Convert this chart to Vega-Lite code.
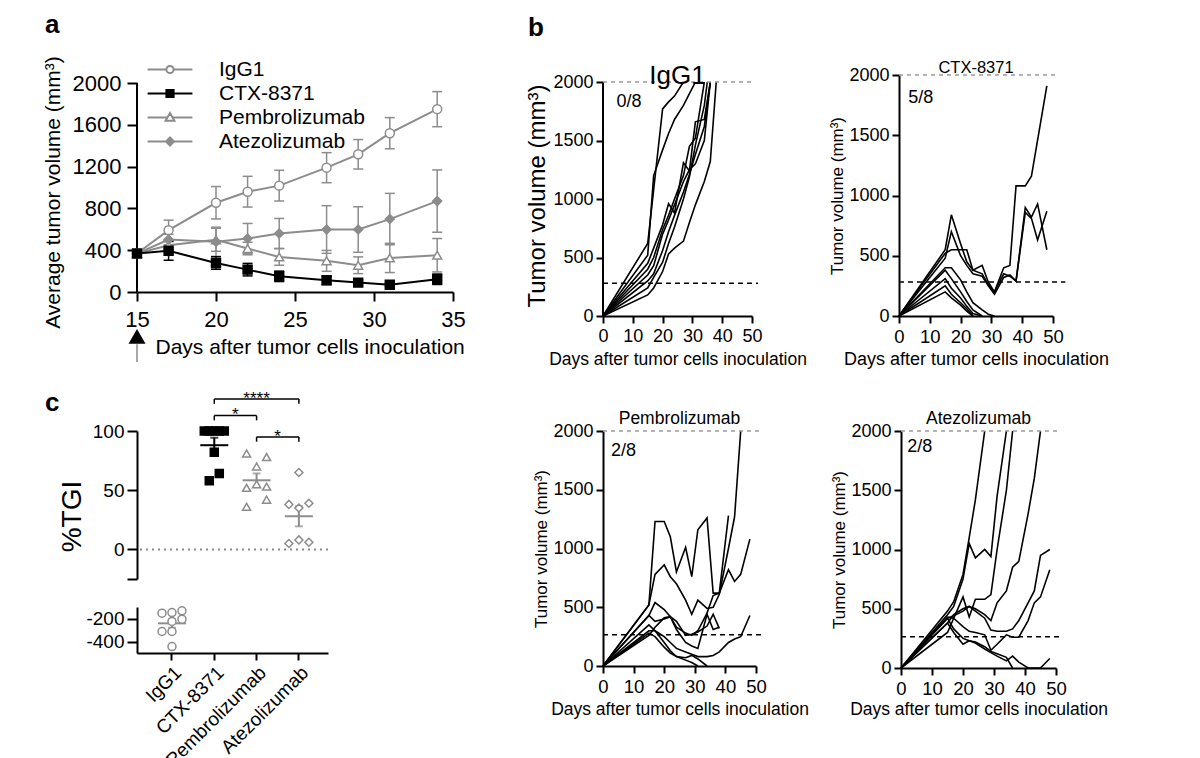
{
"$schema": "https://vega.github.io/schema/vega-lite/v6.json",
"padding": {"left": 42, "top": 11, "right": 10, "bottom": 5},
"config": {
  "font": "Liberation Sans",
  "view": {"stroke": null},
  "axis": {"grid": false, "domainColor": "#000000", "domainWidth": 2, "tickColor": "#000000", "tickWidth": 2, "labelColor": "#000000", "titleColor": "#000000", "titleFontWeight": "normal", "labelFont": "Liberation Sans", "titleFont": "Liberation Sans", "labelFlush": false, "labelOverlap": false},
  "title": {"font": "Liberation Sans", "color": "#000000", "fontWeight": "normal"},
  "legend": {"labelFont": "Liberation Sans"},
  "text": {"font": "Liberation Sans"}
},
"datasets": {
  "avg": [
    {"grp":"IgG1","day":15,"mean":368,"lo":353,"hi":383},{"grp":"IgG1","day":17,"mean":592,"lo":496,"hi":688},{"grp":"IgG1","day":20,"mean":854,"lo":699,"hi":1009},{"grp":"IgG1","day":22,"mean":960,"lo":813,"hi":1107},{"grp":"IgG1","day":24,"mean":1018,"lo":871,"hi":1165},{"grp":"IgG1","day":27,"mean":1190,"lo":1046,"hi":1334},{"grp":"IgG1","day":29,"mean":1318,"lo":1177,"hi":1459},{"grp":"IgG1","day":31,"mean":1520,"lo":1371,"hi":1669},{"grp":"IgG1","day":34,"mean":1750,"lo":1582,"hi":1918},
    {"grp":"Pembrolizumab","day":15,"mean":368,"lo":353,"hi":383},{"grp":"Pembrolizumab","day":17,"mean":448,"lo":398,"hi":498},{"grp":"Pembrolizumab","day":20,"mean":500,"lo":390,"hi":610},{"grp":"Pembrolizumab","day":22,"mean":416,"lo":356,"hi":476},{"grp":"Pembrolizumab","day":24,"mean":336,"lo":256,"hi":416},{"grp":"Pembrolizumab","day":27,"mean":298,"lo":198,"hi":398},{"grp":"Pembrolizumab","day":29,"mean":256,"lo":176,"hi":336},{"grp":"Pembrolizumab","day":31,"mean":326,"lo":186,"hi":466},{"grp":"Pembrolizumab","day":34,"mean":352,"lo":192,"hi":512},
    {"grp":"Atezolizumab","day":15,"mean":368,"lo":353,"hi":383},{"grp":"Atezolizumab","day":17,"mean":502,"lo":452,"hi":552},{"grp":"Atezolizumab","day":20,"mean":480,"lo":340,"hi":620},{"grp":"Atezolizumab","day":22,"mean":512,"lo":368,"hi":656},{"grp":"Atezolizumab","day":24,"mean":560,"lo":416,"hi":704},{"grp":"Atezolizumab","day":27,"mean":598,"lo":370,"hi":826},{"grp":"Atezolizumab","day":29,"mean":598,"lo":380,"hi":816},{"grp":"Atezolizumab","day":31,"mean":698,"lo":452,"hi":944},{"grp":"Atezolizumab","day":34,"mean":870,"lo":572,"hi":1168},
    {"grp":"CTX-8371","day":15,"mean":368,"lo":353,"hi":383},{"grp":"CTX-8371","day":17,"mean":394,"lo":304,"hi":484},{"grp":"CTX-8371","day":20,"mean":278,"lo":218,"hi":338},{"grp":"CTX-8371","day":22,"mean":214,"lo":154,"hi":274},{"grp":"CTX-8371","day":24,"mean":150,"lo":100,"hi":200},{"grp":"CTX-8371","day":27,"mean":112,"lo":72,"hi":152},{"grp":"CTX-8371","day":29,"mean":90,"lo":65,"hi":115},{"grp":"CTX-8371","day":31,"mean":70,"lo":55,"hi":85},{"grp":"CTX-8371","day":34,"mean":122,"lo":72,"hi":172}
  ],
  "mice": [
    {"grp":"IgG1","id":"i1","day":0,"vol":0},{"grp":"IgG1","id":"i1","day":15,"vol":620},{"grp":"IgG1","id":"i1","day":17,"vol":1080},{"grp":"IgG1","id":"i1","day":20,"vol":1770},{"grp":"IgG1","id":"i1","day":22,"vol":1830},{"grp":"IgG1","id":"i1","day":24,"vol":1880},{"grp":"IgG1","id":"i1","day":27,"vol":2000},
    {"grp":"IgG1","id":"i2","day":0,"vol":0},{"grp":"IgG1","id":"i2","day":15,"vol":520},{"grp":"IgG1","id":"i2","day":17,"vol":1200},{"grp":"IgG1","id":"i2","day":20,"vol":1420},{"grp":"IgG1","id":"i2","day":22,"vol":1560},{"grp":"IgG1","id":"i2","day":24,"vol":1680},{"grp":"IgG1","id":"i2","day":27,"vol":1800},{"grp":"IgG1","id":"i2","day":29,"vol":1900},{"grp":"IgG1","id":"i2","day":31,"vol":2000},
    {"grp":"IgG1","id":"i3","day":0,"vol":0},{"grp":"IgG1","id":"i3","day":15,"vol":450},{"grp":"IgG1","id":"i3","day":17,"vol":580},{"grp":"IgG1","id":"i3","day":20,"vol":780},{"grp":"IgG1","id":"i3","day":22,"vol":960},{"grp":"IgG1","id":"i3","day":24,"vol":880},{"grp":"IgG1","id":"i3","day":27,"vol":1310},{"grp":"IgG1","id":"i3","day":29,"vol":1240},{"grp":"IgG1","id":"i3","day":31,"vol":1660},{"grp":"IgG1","id":"i3","day":34,"vol":1680},{"grp":"IgG1","id":"i3","day":36,"vol":2000},
    {"grp":"IgG1","id":"i4","day":0,"vol":0},{"grp":"IgG1","id":"i4","day":15,"vol":400},{"grp":"IgG1","id":"i4","day":17,"vol":500},{"grp":"IgG1","id":"i4","day":20,"vol":740},{"grp":"IgG1","id":"i4","day":22,"vol":860},{"grp":"IgG1","id":"i4","day":24,"vol":1000},{"grp":"IgG1","id":"i4","day":27,"vol":1200},{"grp":"IgG1","id":"i4","day":29,"vol":1450},{"grp":"IgG1","id":"i4","day":31,"vol":1520},{"grp":"IgG1","id":"i4","day":34,"vol":2000},
    {"grp":"IgG1","id":"i5","day":0,"vol":0},{"grp":"IgG1","id":"i5","day":15,"vol":350},{"grp":"IgG1","id":"i5","day":17,"vol":430},{"grp":"IgG1","id":"i5","day":20,"vol":700},{"grp":"IgG1","id":"i5","day":22,"vol":820},{"grp":"IgG1","id":"i5","day":24,"vol":950},{"grp":"IgG1","id":"i5","day":27,"vol":1150},{"grp":"IgG1","id":"i5","day":29,"vol":1250},{"grp":"IgG1","id":"i5","day":31,"vol":1300},{"grp":"IgG1","id":"i5","day":34,"vol":1500},{"grp":"IgG1","id":"i5","day":36,"vol":2000},
    {"grp":"IgG1","id":"i6","day":0,"vol":0},{"grp":"IgG1","id":"i6","day":15,"vol":300},{"grp":"IgG1","id":"i6","day":17,"vol":360},{"grp":"IgG1","id":"i6","day":20,"vol":560},{"grp":"IgG1","id":"i6","day":22,"vol":720},{"grp":"IgG1","id":"i6","day":24,"vol":860},{"grp":"IgG1","id":"i6","day":27,"vol":1060},{"grp":"IgG1","id":"i6","day":29,"vol":1210},{"grp":"IgG1","id":"i6","day":31,"vol":1380},{"grp":"IgG1","id":"i6","day":34,"vol":1620},{"grp":"IgG1","id":"i6","day":36,"vol":2000},
    {"grp":"IgG1","id":"i7","day":0,"vol":0},{"grp":"IgG1","id":"i7","day":15,"vol":240},{"grp":"IgG1","id":"i7","day":17,"vol":330},{"grp":"IgG1","id":"i7","day":20,"vol":460},{"grp":"IgG1","id":"i7","day":22,"vol":620},{"grp":"IgG1","id":"i7","day":24,"vol":760},{"grp":"IgG1","id":"i7","day":27,"vol":1000},{"grp":"IgG1","id":"i7","day":29,"vol":1190},{"grp":"IgG1","id":"i7","day":31,"vol":1460},{"grp":"IgG1","id":"i7","day":34,"vol":1800},{"grp":"IgG1","id":"i7","day":35,"vol":2000},
    {"grp":"IgG1","id":"i8","day":0,"vol":0},{"grp":"IgG1","id":"i8","day":15,"vol":180},{"grp":"IgG1","id":"i8","day":17,"vol":240},{"grp":"IgG1","id":"i8","day":20,"vol":380},{"grp":"IgG1","id":"i8","day":22,"vol":530},{"grp":"IgG1","id":"i8","day":24,"vol":580},{"grp":"IgG1","id":"i8","day":27,"vol":640},{"grp":"IgG1","id":"i8","day":29,"vol":800},{"grp":"IgG1","id":"i8","day":31,"vol":950},{"grp":"IgG1","id":"i8","day":34,"vol":1150},{"grp":"IgG1","id":"i8","day":36,"vol":1320},{"grp":"IgG1","id":"i8","day":38,"vol":2000},
    {"grp":"CTX-8371","id":"c1","day":0,"vol":0},{"grp":"CTX-8371","id":"c1","day":15,"vol":550},{"grp":"CTX-8371","id":"c1","day":17,"vol":840},{"grp":"CTX-8371","id":"c1","day":20,"vol":600},{"grp":"CTX-8371","id":"c1","day":22,"vol":450},{"grp":"CTX-8371","id":"c1","day":24,"vol":380},{"grp":"CTX-8371","id":"c1","day":27,"vol":420},{"grp":"CTX-8371","id":"c1","day":29,"vol":280},{"grp":"CTX-8371","id":"c1","day":31,"vol":200},{"grp":"CTX-8371","id":"c1","day":34,"vol":400},{"grp":"CTX-8371","id":"c1","day":36,"vol":420},{"grp":"CTX-8371","id":"c1","day":38,"vol":1080},{"grp":"CTX-8371","id":"c1","day":41,"vol":1080},{"grp":"CTX-8371","id":"c1","day":43,"vol":1160},{"grp":"CTX-8371","id":"c1","day":48,"vol":1910},
    {"grp":"CTX-8371","id":"c2","day":0,"vol":0},{"grp":"CTX-8371","id":"c2","day":15,"vol":480},{"grp":"CTX-8371","id":"c2","day":17,"vol":700},{"grp":"CTX-8371","id":"c2","day":20,"vol":500},{"grp":"CTX-8371","id":"c2","day":22,"vol":420},{"grp":"CTX-8371","id":"c2","day":24,"vol":350},{"grp":"CTX-8371","id":"c2","day":27,"vol":330},{"grp":"CTX-8371","id":"c2","day":29,"vol":250},{"grp":"CTX-8371","id":"c2","day":31,"vol":180},{"grp":"CTX-8371","id":"c2","day":34,"vol":320},{"grp":"CTX-8371","id":"c2","day":36,"vol":340},{"grp":"CTX-8371","id":"c2","day":38,"vol":290},{"grp":"CTX-8371","id":"c2","day":41,"vol":900},{"grp":"CTX-8371","id":"c2","day":43,"vol":820},{"grp":"CTX-8371","id":"c2","day":45,"vol":930},{"grp":"CTX-8371","id":"c2","day":48,"vol":550},
    {"grp":"CTX-8371","id":"c3","day":0,"vol":0},{"grp":"CTX-8371","id":"c3","day":15,"vol":520},{"grp":"CTX-8371","id":"c3","day":17,"vol":550},{"grp":"CTX-8371","id":"c3","day":20,"vol":550},{"grp":"CTX-8371","id":"c3","day":22,"vol":550},{"grp":"CTX-8371","id":"c3","day":24,"vol":380},{"grp":"CTX-8371","id":"c3","day":27,"vol":350},{"grp":"CTX-8371","id":"c3","day":29,"vol":260},{"grp":"CTX-8371","id":"c3","day":31,"vol":200},{"grp":"CTX-8371","id":"c3","day":34,"vol":350},{"grp":"CTX-8371","id":"c3","day":36,"vol":330},{"grp":"CTX-8371","id":"c3","day":38,"vol":290},{"grp":"CTX-8371","id":"c3","day":41,"vol":860},{"grp":"CTX-8371","id":"c3","day":43,"vol":810},{"grp":"CTX-8371","id":"c3","day":45,"vol":630},{"grp":"CTX-8371","id":"c3","day":48,"vol":870},
    {"grp":"CTX-8371","id":"c4","day":0,"vol":0},{"grp":"CTX-8371","id":"c4","day":15,"vol":400},{"grp":"CTX-8371","id":"c4","day":17,"vol":400},{"grp":"CTX-8371","id":"c4","day":20,"vol":300},{"grp":"CTX-8371","id":"c4","day":22,"vol":200},{"grp":"CTX-8371","id":"c4","day":24,"vol":110},{"grp":"CTX-8371","id":"c4","day":27,"vol":50},{"grp":"CTX-8371","id":"c4","day":29,"vol":15},{"grp":"CTX-8371","id":"c4","day":31,"vol":0},
    {"grp":"CTX-8371","id":"c5","day":0,"vol":0},{"grp":"CTX-8371","id":"c5","day":15,"vol":380},{"grp":"CTX-8371","id":"c5","day":17,"vol":310},{"grp":"CTX-8371","id":"c5","day":20,"vol":200},{"grp":"CTX-8371","id":"c5","day":22,"vol":120},{"grp":"CTX-8371","id":"c5","day":24,"vol":50},{"grp":"CTX-8371","id":"c5","day":27,"vol":0},
    {"grp":"CTX-8371","id":"c6","day":0,"vol":0},{"grp":"CTX-8371","id":"c6","day":15,"vol":310},{"grp":"CTX-8371","id":"c6","day":17,"vol":230},{"grp":"CTX-8371","id":"c6","day":20,"vol":150},{"grp":"CTX-8371","id":"c6","day":22,"vol":80},{"grp":"CTX-8371","id":"c6","day":24,"vol":20},{"grp":"CTX-8371","id":"c6","day":27,"vol":0},
    {"grp":"CTX-8371","id":"c7","day":0,"vol":0},{"grp":"CTX-8371","id":"c7","day":15,"vol":250},{"grp":"CTX-8371","id":"c7","day":17,"vol":180},{"grp":"CTX-8371","id":"c7","day":20,"vol":110},{"grp":"CTX-8371","id":"c7","day":22,"vol":60},{"grp":"CTX-8371","id":"c7","day":24,"vol":0},
    {"grp":"CTX-8371","id":"c8","day":0,"vol":0},{"grp":"CTX-8371","id":"c8","day":15,"vol":200},{"grp":"CTX-8371","id":"c8","day":17,"vol":150},{"grp":"CTX-8371","id":"c8","day":20,"vol":90},{"grp":"CTX-8371","id":"c8","day":22,"vol":40},{"grp":"CTX-8371","id":"c8","day":24,"vol":0},
    {"grp":"Pembrolizumab","id":"p1","day":0,"vol":0},{"grp":"Pembrolizumab","id":"p1","day":15,"vol":520},{"grp":"Pembrolizumab","id":"p1","day":17,"vol":1230},{"grp":"Pembrolizumab","id":"p1","day":20,"vol":1230},{"grp":"Pembrolizumab","id":"p1","day":22,"vol":1100},{"grp":"Pembrolizumab","id":"p1","day":24,"vol":800},{"grp":"Pembrolizumab","id":"p1","day":27,"vol":1010},{"grp":"Pembrolizumab","id":"p1","day":29,"vol":760},{"grp":"Pembrolizumab","id":"p1","day":31,"vol":1160},{"grp":"Pembrolizumab","id":"p1","day":34,"vol":1260},{"grp":"Pembrolizumab","id":"p1","day":36,"vol":620},{"grp":"Pembrolizumab","id":"p1","day":38,"vol":620},{"grp":"Pembrolizumab","id":"p1","day":41,"vol":1280},
    {"grp":"Pembrolizumab","id":"p2","day":0,"vol":0},{"grp":"Pembrolizumab","id":"p2","day":15,"vol":520},{"grp":"Pembrolizumab","id":"p2","day":17,"vol":780},{"grp":"Pembrolizumab","id":"p2","day":20,"vol":860},{"grp":"Pembrolizumab","id":"p2","day":22,"vol":760},{"grp":"Pembrolizumab","id":"p2","day":24,"vol":700},{"grp":"Pembrolizumab","id":"p2","day":27,"vol":560},{"grp":"Pembrolizumab","id":"p2","day":29,"vol":440},{"grp":"Pembrolizumab","id":"p2","day":31,"vol":560},{"grp":"Pembrolizumab","id":"p2","day":34,"vol":490},{"grp":"Pembrolizumab","id":"p2","day":36,"vol":500},{"grp":"Pembrolizumab","id":"p2","day":38,"vol":610},{"grp":"Pembrolizumab","id":"p2","day":41,"vol":1000},{"grp":"Pembrolizumab","id":"p2","day":43,"vol":1270},{"grp":"Pembrolizumab","id":"p2","day":45,"vol":2000},
    {"grp":"Pembrolizumab","id":"p3","day":0,"vol":0},{"grp":"Pembrolizumab","id":"p3","day":15,"vol":430},{"grp":"Pembrolizumab","id":"p3","day":17,"vol":540},{"grp":"Pembrolizumab","id":"p3","day":20,"vol":480},{"grp":"Pembrolizumab","id":"p3","day":22,"vol":420},{"grp":"Pembrolizumab","id":"p3","day":24,"vol":330},{"grp":"Pembrolizumab","id":"p3","day":27,"vol":280},{"grp":"Pembrolizumab","id":"p3","day":29,"vol":260},{"grp":"Pembrolizumab","id":"p3","day":31,"vol":300},{"grp":"Pembrolizumab","id":"p3","day":34,"vol":450},{"grp":"Pembrolizumab","id":"p3","day":36,"vol":600},{"grp":"Pembrolizumab","id":"p3","day":38,"vol":620},{"grp":"Pembrolizumab","id":"p3","day":41,"vol":820},{"grp":"Pembrolizumab","id":"p3","day":43,"vol":720},{"grp":"Pembrolizumab","id":"p3","day":45,"vol":780},{"grp":"Pembrolizumab","id":"p3","day":48,"vol":1080},
    {"grp":"Pembrolizumab","id":"p4","day":0,"vol":0},{"grp":"Pembrolizumab","id":"p4","day":15,"vol":430},{"grp":"Pembrolizumab","id":"p4","day":17,"vol":380},{"grp":"Pembrolizumab","id":"p4","day":20,"vol":400},{"grp":"Pembrolizumab","id":"p4","day":22,"vol":420},{"grp":"Pembrolizumab","id":"p4","day":24,"vol":380},{"grp":"Pembrolizumab","id":"p4","day":27,"vol":260},{"grp":"Pembrolizumab","id":"p4","day":29,"vol":270},{"grp":"Pembrolizumab","id":"p4","day":31,"vol":290},{"grp":"Pembrolizumab","id":"p4","day":34,"vol":340},{"grp":"Pembrolizumab","id":"p4","day":36,"vol":440},{"grp":"Pembrolizumab","id":"p4","day":38,"vol":320},
    {"grp":"Pembrolizumab","id":"p5","day":0,"vol":0},{"grp":"Pembrolizumab","id":"p5","day":15,"vol":350},{"grp":"Pembrolizumab","id":"p5","day":17,"vol":300},{"grp":"Pembrolizumab","id":"p5","day":20,"vol":250},{"grp":"Pembrolizumab","id":"p5","day":22,"vol":200},{"grp":"Pembrolizumab","id":"p5","day":24,"vol":150},{"grp":"Pembrolizumab","id":"p5","day":27,"vol":120},{"grp":"Pembrolizumab","id":"p5","day":29,"vol":100},{"grp":"Pembrolizumab","id":"p5","day":31,"vol":80},{"grp":"Pembrolizumab","id":"p5","day":34,"vol":80},{"grp":"Pembrolizumab","id":"p5","day":36,"vol":90},{"grp":"Pembrolizumab","id":"p5","day":38,"vol":120},{"grp":"Pembrolizumab","id":"p5","day":41,"vol":200},{"grp":"Pembrolizumab","id":"p5","day":43,"vol":230},{"grp":"Pembrolizumab","id":"p5","day":45,"vol":250},{"grp":"Pembrolizumab","id":"p5","day":48,"vol":430},
    {"grp":"Pembrolizumab","id":"p6","day":0,"vol":0},{"grp":"Pembrolizumab","id":"p6","day":15,"vol":300},{"grp":"Pembrolizumab","id":"p6","day":17,"vol":300},{"grp":"Pembrolizumab","id":"p6","day":20,"vol":200},{"grp":"Pembrolizumab","id":"p6","day":22,"vol":130},{"grp":"Pembrolizumab","id":"p6","day":24,"vol":80},{"grp":"Pembrolizumab","id":"p6","day":27,"vol":50},{"grp":"Pembrolizumab","id":"p6","day":29,"vol":30},{"grp":"Pembrolizumab","id":"p6","day":31,"vol":0},
    {"grp":"Pembrolizumab","id":"p7","day":0,"vol":0},{"grp":"Pembrolizumab","id":"p7","day":15,"vol":280},{"grp":"Pembrolizumab","id":"p7","day":17,"vol":250},{"grp":"Pembrolizumab","id":"p7","day":20,"vol":160},{"grp":"Pembrolizumab","id":"p7","day":22,"vol":110},{"grp":"Pembrolizumab","id":"p7","day":24,"vol":80},{"grp":"Pembrolizumab","id":"p7","day":27,"vol":70},{"grp":"Pembrolizumab","id":"p7","day":29,"vol":90},{"grp":"Pembrolizumab","id":"p7","day":31,"vol":60},{"grp":"Pembrolizumab","id":"p7","day":34,"vol":0},
    {"grp":"Pembrolizumab","id":"p8","day":0,"vol":0},{"grp":"Pembrolizumab","id":"p8","day":15,"vol":260},{"grp":"Pembrolizumab","id":"p8","day":17,"vol":330},{"grp":"Pembrolizumab","id":"p8","day":20,"vol":410},{"grp":"Pembrolizumab","id":"p8","day":22,"vol":420},{"grp":"Pembrolizumab","id":"p8","day":24,"vol":310},{"grp":"Pembrolizumab","id":"p8","day":27,"vol":200},{"grp":"Pembrolizumab","id":"p8","day":29,"vol":170},{"grp":"Pembrolizumab","id":"p8","day":31,"vol":150},{"grp":"Pembrolizumab","id":"p8","day":34,"vol":440},{"grp":"Pembrolizumab","id":"p8","day":36,"vol":310},{"grp":"Pembrolizumab","id":"p8","day":38,"vol":330},
    {"grp":"Atezolizumab","id":"a1","day":0,"vol":0},{"grp":"Atezolizumab","id":"a1","day":15,"vol":480},{"grp":"Atezolizumab","id":"a1","day":17,"vol":560},{"grp":"Atezolizumab","id":"a1","day":20,"vol":790},{"grp":"Atezolizumab","id":"a1","day":22,"vol":1100},{"grp":"Atezolizumab","id":"a1","day":24,"vol":1420},{"grp":"Atezolizumab","id":"a1","day":27,"vol":2000},
    {"grp":"Atezolizumab","id":"a2","day":0,"vol":0},{"grp":"Atezolizumab","id":"a2","day":15,"vol":450},{"grp":"Atezolizumab","id":"a2","day":17,"vol":520},{"grp":"Atezolizumab","id":"a2","day":20,"vol":750},{"grp":"Atezolizumab","id":"a2","day":22,"vol":1050},{"grp":"Atezolizumab","id":"a2","day":24,"vol":930},{"grp":"Atezolizumab","id":"a2","day":27,"vol":1000},{"grp":"Atezolizumab","id":"a2","day":29,"vol":940},{"grp":"Atezolizumab","id":"a2","day":31,"vol":1450},{"grp":"Atezolizumab","id":"a2","day":34,"vol":2000},
    {"grp":"Atezolizumab","id":"a3","day":0,"vol":0},{"grp":"Atezolizumab","id":"a3","day":15,"vol":430},{"grp":"Atezolizumab","id":"a3","day":17,"vol":420},{"grp":"Atezolizumab","id":"a3","day":20,"vol":600},{"grp":"Atezolizumab","id":"a3","day":22,"vol":430},{"grp":"Atezolizumab","id":"a3","day":24,"vol":580},{"grp":"Atezolizumab","id":"a3","day":27,"vol":580},{"grp":"Atezolizumab","id":"a3","day":29,"vol":620},{"grp":"Atezolizumab","id":"a3","day":31,"vol":1000},{"grp":"Atezolizumab","id":"a3","day":34,"vol":1500},{"grp":"Atezolizumab","id":"a3","day":36,"vol":2000},
    {"grp":"Atezolizumab","id":"a4","day":0,"vol":0},{"grp":"Atezolizumab","id":"a4","day":15,"vol":420},{"grp":"Atezolizumab","id":"a4","day":17,"vol":440},{"grp":"Atezolizumab","id":"a4","day":20,"vol":480},{"grp":"Atezolizumab","id":"a4","day":22,"vol":520},{"grp":"Atezolizumab","id":"a4","day":24,"vol":500},{"grp":"Atezolizumab","id":"a4","day":27,"vol":450},{"grp":"Atezolizumab","id":"a4","day":29,"vol":400},{"grp":"Atezolizumab","id":"a4","day":31,"vol":550},{"grp":"Atezolizumab","id":"a4","day":34,"vol":650},{"grp":"Atezolizumab","id":"a4","day":36,"vol":850},{"grp":"Atezolizumab","id":"a4","day":38,"vol":900},{"grp":"Atezolizumab","id":"a4","day":41,"vol":1300},{"grp":"Atezolizumab","id":"a4","day":43,"vol":1600},{"grp":"Atezolizumab","id":"a4","day":45,"vol":2000},
    {"grp":"Atezolizumab","id":"a5","day":0,"vol":0},{"grp":"Atezolizumab","id":"a5","day":15,"vol":380},{"grp":"Atezolizumab","id":"a5","day":17,"vol":450},{"grp":"Atezolizumab","id":"a5","day":20,"vol":500},{"grp":"Atezolizumab","id":"a5","day":22,"vol":520},{"grp":"Atezolizumab","id":"a5","day":24,"vol":480},{"grp":"Atezolizumab","id":"a5","day":27,"vol":420},{"grp":"Atezolizumab","id":"a5","day":29,"vol":320},{"grp":"Atezolizumab","id":"a5","day":31,"vol":310},{"grp":"Atezolizumab","id":"a5","day":34,"vol":310},{"grp":"Atezolizumab","id":"a5","day":36,"vol":330},{"grp":"Atezolizumab","id":"a5","day":38,"vol":400},{"grp":"Atezolizumab","id":"a5","day":41,"vol":550},{"grp":"Atezolizumab","id":"a5","day":43,"vol":650},{"grp":"Atezolizumab","id":"a5","day":45,"vol":950},{"grp":"Atezolizumab","id":"a5","day":48,"vol":1000},
    {"grp":"Atezolizumab","id":"a6","day":0,"vol":0},{"grp":"Atezolizumab","id":"a6","day":15,"vol":300},{"grp":"Atezolizumab","id":"a6","day":17,"vol":420},{"grp":"Atezolizumab","id":"a6","day":20,"vol":350},{"grp":"Atezolizumab","id":"a6","day":22,"vol":310},{"grp":"Atezolizumab","id":"a6","day":24,"vol":300},{"grp":"Atezolizumab","id":"a6","day":27,"vol":280},{"grp":"Atezolizumab","id":"a6","day":29,"vol":150},{"grp":"Atezolizumab","id":"a6","day":31,"vol":200},{"grp":"Atezolizumab","id":"a6","day":34,"vol":280},{"grp":"Atezolizumab","id":"a6","day":36,"vol":260},{"grp":"Atezolizumab","id":"a6","day":38,"vol":260},{"grp":"Atezolizumab","id":"a6","day":41,"vol":400},{"grp":"Atezolizumab","id":"a6","day":43,"vol":550},{"grp":"Atezolizumab","id":"a6","day":45,"vol":600},{"grp":"Atezolizumab","id":"a6","day":48,"vol":830},
    {"grp":"Atezolizumab","id":"a7","day":0,"vol":0},{"grp":"Atezolizumab","id":"a7","day":15,"vol":420},{"grp":"Atezolizumab","id":"a7","day":17,"vol":330},{"grp":"Atezolizumab","id":"a7","day":20,"vol":250},{"grp":"Atezolizumab","id":"a7","day":22,"vol":230},{"grp":"Atezolizumab","id":"a7","day":24,"vol":220},{"grp":"Atezolizumab","id":"a7","day":27,"vol":180},{"grp":"Atezolizumab","id":"a7","day":29,"vol":140},{"grp":"Atezolizumab","id":"a7","day":31,"vol":120},{"grp":"Atezolizumab","id":"a7","day":34,"vol":90},{"grp":"Atezolizumab","id":"a7","day":36,"vol":0},
    {"grp":"Atezolizumab","id":"a8","day":0,"vol":0},{"grp":"Atezolizumab","id":"a8","day":15,"vol":380},{"grp":"Atezolizumab","id":"a8","day":17,"vol":300},{"grp":"Atezolizumab","id":"a8","day":20,"vol":200},{"grp":"Atezolizumab","id":"a8","day":22,"vol":230},{"grp":"Atezolizumab","id":"a8","day":24,"vol":210},{"grp":"Atezolizumab","id":"a8","day":27,"vol":160},{"grp":"Atezolizumab","id":"a8","day":29,"vol":130},{"grp":"Atezolizumab","id":"a8","day":31,"vol":100},{"grp":"Atezolizumab","id":"a8","day":34,"vol":60},{"grp":"Atezolizumab","id":"a8","day":36,"vol":100},{"grp":"Atezolizumab","id":"a8","day":38,"vol":50},{"grp":"Atezolizumab","id":"a8","day":41,"vol":0},{"grp":"Atezolizumab","id":"a8","day":45,"vol":0},{"grp":"Atezolizumab","id":"a8","day":48,"vol":80}
  ],
  "tgi": [
    {"grp":"IgG1","col":"L","tgi":-154},{"grp":"IgG1","col":"C","tgi":-148},{"grp":"IgG1","col":"R","tgi":-133},{"grp":"IgG1","col":"C","tgi":-226},{"grp":"IgG1","col":"R","tgi":-206},{"grp":"IgG1","col":"L","tgi":-313},{"grp":"IgG1","col":"C","tgi":-313},{"grp":"IgG1","col":"C","tgi":-444},
    {"grp":"CTX-8371","col":"L","tgi":100},{"grp":"CTX-8371","col":"l","tgi":100},{"grp":"CTX-8371","col":"C","tgi":100},{"grp":"CTX-8371","col":"r","tgi":100},{"grp":"CTX-8371","col":"R","tgi":100},{"grp":"CTX-8371","col":"C","tgi":82},{"grp":"CTX-8371","col":"r","tgi":64},{"grp":"CTX-8371","col":"l","tgi":58},
    {"grp":"Pembrolizumab","col":"L","tgi":81},{"grp":"Pembrolizumab","col":"R","tgi":78},{"grp":"Pembrolizumab","col":"C","tgi":70},{"grp":"Pembrolizumab","col":"L","tgi":52},{"grp":"Pembrolizumab","col":"R","tgi":53},{"grp":"Pembrolizumab","col":"C","tgi":55},{"grp":"Pembrolizumab","col":"L","tgi":36},{"grp":"Pembrolizumab","col":"R","tgi":42},
    {"grp":"Atezolizumab","col":"C","tgi":65},{"grp":"Atezolizumab","col":"L","tgi":38},{"grp":"Atezolizumab","col":"R","tgi":39},{"grp":"Atezolizumab","col":"C","tgi":35},{"grp":"Atezolizumab","col":"L","tgi":5},{"grp":"Atezolizumab","col":"C","tgi":8},{"grp":"Atezolizumab","col":"R","tgi":6}
  ],
  "sig": [
    {"a":"CTX-8371","b":"Atezolizumab","mid":"Pembrolizumab","y":127,"ye":123,"lab":"****"},
    {"a":"CTX-8371","b":"Pembrolizumab","mid":"CTX-8371","y":113,"ye":109,"lab":"*"},
    {"a":"Pembrolizumab","b":"Atezolizumab","mid":"Pembrolizumab","y":95,"ye":91,"lab":"*"}
  ]
},
"bounds": "flush",
"spacing": 466,
"resolve": {"scale": {"color": "independent", "shape": "independent", "fill": "independent", "stroke": "independent"}, "legend": {"color": "independent", "shape": "independent", "fill": "independent", "stroke": "independent"}},
"hconcat": [
  {
    "bounds": "flush",
    "spacing": 139,
    "resolve": {"scale": {"color": "independent", "shape": "independent", "fill": "independent", "stroke": "independent"}, "legend": {"color": "independent", "shape": "independent", "fill": "independent", "stroke": "independent"}},
    "vconcat": [
      {
        "width": 316, "height": 217,
        "title": {"text": "a", "anchor": "start", "frame": "group", "dx": -92, "offset": -3, "fontSize": 26, "fontWeight": "bold", "baseline": "alphabetic"},
        "resolve": {"scale": {"color": "independent", "shape": "independent", "fill": "independent", "stroke": "independent"}, "legend": {"color": "independent", "shape": "independent", "fill": "independent", "stroke": "independent"}},
        "layer": [
          {"data": {"values": [{}]}, "mark": {"type": "rule", "color": "#000000", "strokeWidth": 2},
           "encoding": {"x": {"datum": 15, "type": "quantitative", "scale": {"domain": [15, 35]}}, "y": {"datum": 0, "type": "quantitative", "scale": {"domain": [0, 2077]}}, "y2": {"datum": 2000}}},
          {"data": {"values": [{}]}, "mark": {"type": "rule", "color": "#8c8c8c", "strokeWidth": 1.5},
           "encoding": {"x": {"datum": 15, "type": "quantitative", "scale": {"domain": [15, 35]}}, "y": {"datum": -500, "type": "quantitative", "scale": {"domain": [0, 2077]}}, "y2": {"datum": -670}}},
          {"data": {"values": [{}]}, "mark": {"type": "point", "shape": "triangle-up", "filled": true, "color": "#000000", "size": 289, "opacity": 1},
           "encoding": {"x": {"datum": 15, "type": "quantitative", "scale": {"domain": [15, 35]}}, "y": {"datum": -425, "type": "quantitative", "scale": {"domain": [0, 2077]}}}},
          {"data": {"name": "avg"}, "mark": {"type": "rule", "strokeWidth": 1.5},
           "encoding": {
             "x": {"field": "day", "type": "quantitative", "scale": {"domain": [15, 35]}},
             "y": {"field": "lo", "type": "quantitative", "scale": {"domain": [0, 2077]}},
             "y2": {"field": "hi"},
             "stroke": {"field": "grp", "type": "nominal", "scale": {"domain": ["IgG1","CTX-8371","Pembrolizumab","Atezolizumab"], "range": ["#8c8c8c","#000000","#8c8c8c","#8c8c8c"]}, "legend": null}}},
          {"data": {"name": "avg"}, "mark": {"type": "point", "shape": "stroke", "filled": false, "size": 100, "strokeWidth": 1.5, "opacity": 1},
           "encoding": {
             "x": {"field": "day", "type": "quantitative", "scale": {"domain": [15, 35]}},
             "y": {"field": "lo", "type": "quantitative", "scale": {"domain": [0, 2077]}},
             "stroke": {"field": "grp", "type": "nominal", "scale": {"domain": ["IgG1","CTX-8371","Pembrolizumab","Atezolizumab"], "range": ["#8c8c8c","#000000","#8c8c8c","#8c8c8c"]}, "legend": null}}},
          {"data": {"name": "avg"}, "mark": {"type": "point", "shape": "stroke", "filled": false, "size": 100, "strokeWidth": 1.5, "opacity": 1},
           "encoding": {
             "x": {"field": "day", "type": "quantitative", "scale": {"domain": [15, 35]}},
             "y": {"field": "hi", "type": "quantitative", "scale": {"domain": [0, 2077]}},
             "stroke": {"field": "grp", "type": "nominal", "scale": {"domain": ["IgG1","CTX-8371","Pembrolizumab","Atezolizumab"], "range": ["#8c8c8c","#000000","#8c8c8c","#8c8c8c"]}, "legend": null}}},
          {"data": {"name": "avg"}, "mark": {"type": "line", "strokeWidth": 2},
           "encoding": {
             "x": {"field": "day", "type": "quantitative", "scale": {"domain": [15, 35]}, "axis": {"values": [15, 20, 25, 30, 35], "title": "Days after tumor cells inoculation", "labelFontSize": 22, "titleFontSize": 21, "tickSize": 9, "labelPadding": 8, "titlePadding": 6, "titleX": 18, "titleAlign": "left", "labelOverlap": false}},
             "y": {"field": "mean", "type": "quantitative", "scale": {"domain": [0, 2077]}, "axis": {"values": [0, 400, 800, 1200, 1600, 2000], "format": "d", "title": "Average tumor volume (mm³)", "labelFontSize": 22, "titleFontSize": 21, "tickSize": 10, "labelPadding": 6, "titlePadding": 9, "titleY": 117, "domain": false, "labelOverlap": false}},
             "color": {"field": "grp", "type": "nominal", "scale": {"domain": ["IgG1","CTX-8371","Pembrolizumab","Atezolizumab"], "range": ["#8c8c8c","#000000","#8c8c8c","#8c8c8c"]}, "legend": null}}},
          {"data": {"name": "avg"}, "mark": {"type": "point", "filled": false, "strokeWidth": 1.5, "size": 80, "opacity": 1},
           "encoding": {
             "x": {"field": "day", "type": "quantitative", "scale": {"domain": [15, 35]}},
             "y": {"field": "mean", "type": "quantitative", "scale": {"domain": [0, 2077]}},
             "stroke": {"field": "grp", "type": "nominal", "scale": {"domain": ["IgG1","CTX-8371","Pembrolizumab","Atezolizumab"], "range": ["#8c8c8c","#000000","#8c8c8c","#8c8c8c"]}, "legend": null},
             "shape": {"field": "grp", "type": "nominal", "scale": {"domain": ["IgG1","CTX-8371","Pembrolizumab","Atezolizumab"], "range": ["circle","square","triangle-up","diamond"]}, "legend": null},
             "fill": {"field": "grp", "type": "nominal", "scale": {"domain": ["IgG1","CTX-8371","Pembrolizumab","Atezolizumab"], "range": ["#ffffff","#000000","#ffffff","#8c8c8c"]}, "legend": null}}},
          {"data": {"name": "avg"}, "transform": [{"filter": "false"}],
           "mark": {"type": "point", "filled": false, "strokeWidth": 2, "size": 64, "opacity": 1},
           "encoding": {
             "x": {"field": "day", "type": "quantitative", "scale": {"domain": [15, 35]}},
             "y": {"field": "mean", "type": "quantitative", "scale": {"domain": [0, 2077]}},
             "stroke": {"field": "grp", "type": "nominal", "scale": {"domain": ["IgG1","CTX-8371","Pembrolizumab","Atezolizumab"], "range": ["#8c8c8c","#000000","#8c8c8c","#8c8c8c"]},
               "legend": {"orient": "none", "legendX": 22.5, "legendY": -16, "title": null, "labelFontSize": 21, "labelColor": "#000000", "labelOffset": 38.5, "symbolSize": 64, "symbolStrokeWidth": 2, "rowPadding": 2, "padding": 0}},
             "shape": {"field": "grp", "type": "nominal", "scale": {"domain": ["IgG1","CTX-8371","Pembrolizumab","Atezolizumab"], "range": ["M-5.6,0H-0.9M0.9,0H5.6M-0.9,0A0.9,0.9,0,1,1,0.9,0A0.9,0.9,0,1,1,-0.9,0Z", "M-5.6,0H5.6M-0.9,-0.9H0.9V0.9H-0.9Z", "M-5.6,0H-0.6M0.6,0H5.6M0,-1.1L1.1,0.8H-1.1Z", "M-5.6,0H5.6M0,-1L1,0L0,1L-1,0Z"]},
               "legend": {"orient": "none", "legendX": 22.5, "legendY": -16, "title": null, "labelFontSize": 21, "labelColor": "#000000", "labelOffset": 38.5, "symbolSize": 64, "symbolStrokeWidth": 2, "rowPadding": 2, "padding": 0}},
             "fill": {"field": "grp", "type": "nominal", "scale": {"domain": ["IgG1","CTX-8371","Pembrolizumab","Atezolizumab"], "range": ["#ffffff","#000000","#ffffff","#8c8c8c"]},
               "legend": {"orient": "none", "legendX": 22.5, "legendY": -16, "title": null, "labelFontSize": 21, "labelColor": "#000000", "labelOffset": 38.5, "symbolSize": 64, "symbolStrokeWidth": 2, "rowPadding": 2, "padding": 0}}}}
        ]
      },
      {
        "bounds": "flush",
        "spacing": 28,
        "vconcat": [
          {
            "width": 191, "height": 148,
            "title": {"text": "c", "anchor": "start", "frame": "group", "dx": -92, "offset": -47, "fontSize": 26, "fontWeight": "bold", "baseline": "alphabetic"},
            "layer": [
              {"data": {"values": [{}]}, "mark": {"type": "rule", "color": "#8c8c8c", "strokeWidth": 2, "strokeDash": [2, 4]},
               "encoding": {"y": {"datum": 0, "type": "quantitative", "title": "%TGI", "scale": {"domain": [-25, 100]}}}},
              {"data": {"name": "tgi"}, "transform": [{"filter": "datum.grp !== 'IgG1'"}],
               "mark": {"type": "errorbar", "extent": "stderr", "ticks": true, "size": 8, "thickness": 2},
               "encoding": {
                 "x": {"field": "grp", "type": "nominal", "scale": {"type": "band", "domain": ["IgG1","CTX-8371","Pembrolizumab","Atezolizumab"], "paddingInner": 0.409, "paddingOuter": 0.462, "align": 0.575}, "axis": null},
                 "y": {"field": "tgi", "type": "quantitative", "title": "%TGI", "scale": {"domain": [-25, 100]}},
                 "color": {"field": "grp", "type": "nominal", "scale": {"domain": ["IgG1","CTX-8371","Pembrolizumab","Atezolizumab"], "range": ["#8c8c8c","#000000","#8c8c8c","#8c8c8c"]}, "legend": null}}},
              {"data": {"name": "tgi"}, "transform": [{"filter": "datum.grp !== 'IgG1'"}],
               "mark": {"type": "tick", "orient": "horizontal", "size": 28, "thickness": 2},
               "encoding": {
                 "x": {"field": "grp", "type": "nominal", "scale": {"type": "band", "domain": ["IgG1","CTX-8371","Pembrolizumab","Atezolizumab"], "paddingInner": 0.409, "paddingOuter": 0.462, "align": 0.575}, "axis": null},
                 "y": {"aggregate": "mean", "field": "tgi", "type": "quantitative", "title": "%TGI", "scale": {"domain": [-25, 100]}},
                 "color": {"field": "grp", "type": "nominal", "scale": {"domain": ["IgG1","CTX-8371","Pembrolizumab","Atezolizumab"], "range": ["#8c8c8c","#000000","#8c8c8c","#8c8c8c"]}, "legend": null}}},
              {"data": {"name": "tgi"}, "transform": [{"filter": "datum.grp !== 'IgG1'"}],
               "mark": {"type": "point", "filled": false, "strokeWidth": 1.5, "size": 64, "opacity": 1},
               "encoding": {
                 "x": {"field": "grp", "type": "nominal", "scale": {"type": "band", "domain": ["IgG1","CTX-8371","Pembrolizumab","Atezolizumab"], "paddingInner": 0.409, "paddingOuter": 0.462, "align": 0.575}, "axis": null},
                 "xOffset": {"field": "col", "type": "nominal", "scale": {"type": "band", "domain": ["L","l","C","r","R"], "paddingInner": 0, "paddingOuter": 0}},
                 "y": {"field": "tgi", "type": "quantitative", "title": "%TGI", "scale": {"domain": [-25, 100]},
                   "axis": {"values": [100, 50, 0, -25], "labelExpr": "datum.value === -25 ? '' : datum.label", "title": "%TGI", "titleFontSize": 28, "labelFontSize": 19, "tickSize": 10, "labelPadding": 3, "titlePadding": 6, "titleY": 85, "labelOverlap": false,
                     "encode": {"ticks": {"x2": {"condition": {"test": "datum.value === -25", "value": 12}, "value": -10}}}}},
                 "color": {"field": "grp", "type": "nominal", "scale": {"domain": ["IgG1","CTX-8371","Pembrolizumab","Atezolizumab"], "range": ["#8c8c8c","#000000","#8c8c8c","#8c8c8c"]}, "legend": null},
                 "shape": {"field": "grp", "type": "nominal", "scale": {"domain": ["IgG1","CTX-8371","Pembrolizumab","Atezolizumab"], "range": ["circle","square","triangle-up","diamond"]}, "legend": null},
                 "fill": {"field": "grp", "type": "nominal", "scale": {"domain": ["IgG1","CTX-8371","Pembrolizumab","Atezolizumab"], "range": ["#ffffff","#000000","#ffffff","#ffffff"]}, "legend": null}}},
              {"data": {"name": "sig"}, "mark": {"type": "rule", "color": "#000000", "strokeWidth": 1.5},
               "encoding": {
                 "x": {"field": "a", "type": "nominal", "bandPosition": 0.5, "scale": {"type": "band", "domain": ["IgG1","CTX-8371","Pembrolizumab","Atezolizumab"], "paddingInner": 0.409, "paddingOuter": 0.462, "align": 0.575}, "axis": null},
                 "x2": {"field": "b", "bandPosition": 0.5},
                 "y": {"field": "y", "type": "quantitative", "title": "%TGI", "scale": {"domain": [-25, 100]}}}},
              {"data": {"name": "sig"}, "mark": {"type": "rule", "color": "#000000", "strokeWidth": 1.5},
               "encoding": {
                 "x": {"field": "a", "type": "nominal", "bandPosition": 0.5, "scale": {"type": "band", "domain": ["IgG1","CTX-8371","Pembrolizumab","Atezolizumab"], "paddingInner": 0.409, "paddingOuter": 0.462, "align": 0.575}, "axis": null},
                 "y": {"field": "y", "type": "quantitative", "title": "%TGI", "scale": {"domain": [-25, 100]}},
                 "y2": {"field": "ye"}}},
              {"data": {"name": "sig"}, "mark": {"type": "rule", "color": "#000000", "strokeWidth": 1.5},
               "encoding": {
                 "x": {"field": "b", "type": "nominal", "bandPosition": 0.5, "scale": {"type": "band", "domain": ["IgG1","CTX-8371","Pembrolizumab","Atezolizumab"], "paddingInner": 0.409, "paddingOuter": 0.462, "align": 0.575}, "axis": null},
                 "y": {"field": "y", "type": "quantitative", "title": "%TGI", "scale": {"domain": [-25, 100]}},
                 "y2": {"field": "ye"}}},
              {"data": {"name": "sig"}, "transform": [{"filter": "datum.lab === '****'"}],
               "mark": {"type": "text", "fontSize": 17, "align": "center", "baseline": "alphabetic", "color": "#000000"},
               "encoding": {
                 "x": {"field": "mid", "type": "nominal", "bandPosition": 0.5, "scale": {"type": "band", "domain": ["IgG1","CTX-8371","Pembrolizumab","Atezolizumab"], "paddingInner": 0.409, "paddingOuter": 0.462, "align": 0.575}, "axis": null},
                 "y": {"field": "ye", "type": "quantitative", "title": "%TGI", "scale": {"domain": [-25, 100]}},
                 "text": {"field": "lab"}}},
              {"data": {"name": "sig"}, "transform": [{"filter": "datum.lab === '*'"}],
               "mark": {"type": "text", "fontSize": 17, "align": "center", "baseline": "alphabetic", "color": "#000000", "dx": 21},
               "encoding": {
                 "x": {"field": "mid", "type": "nominal", "bandPosition": 0.5, "scale": {"type": "band", "domain": ["IgG1","CTX-8371","Pembrolizumab","Atezolizumab"], "paddingInner": 0.409, "paddingOuter": 0.462, "align": 0.575}, "axis": null},
                 "y": {"field": "ye", "type": "quantitative", "title": "%TGI", "scale": {"domain": [-25, 100]}},
                 "text": {"field": "lab"}}}
            ]
          },
          {
            "width": 191, "height": 46,
            "layer": [
              {"data": {"name": "tgi"}, "transform": [{"filter": "datum.grp === 'IgG1'"}],
               "mark": {"type": "errorbar", "extent": "stderr", "ticks": true, "size": 8, "thickness": 2},
               "encoding": {
                 "x": {"field": "grp", "type": "nominal", "scale": {"type": "band", "domain": ["IgG1","CTX-8371","Pembrolizumab","Atezolizumab"], "paddingInner": 0.409, "paddingOuter": 0.462, "align": 0.575}},
                 "y": {"field": "tgi", "type": "quantitative", "title": null, "scale": {"domain": [-500, -100]}},
                 "color": {"field": "grp", "type": "nominal", "scale": {"domain": ["IgG1","CTX-8371","Pembrolizumab","Atezolizumab"], "range": ["#8c8c8c","#000000","#8c8c8c","#8c8c8c"]}, "legend": null}}},
              {"data": {"name": "tgi"}, "transform": [{"filter": "datum.grp === 'IgG1'"}],
               "mark": {"type": "tick", "orient": "horizontal", "size": 28, "thickness": 2},
               "encoding": {
                 "x": {"field": "grp", "type": "nominal", "scale": {"type": "band", "domain": ["IgG1","CTX-8371","Pembrolizumab","Atezolizumab"], "paddingInner": 0.409, "paddingOuter": 0.462, "align": 0.575}},
                 "y": {"aggregate": "mean", "field": "tgi", "type": "quantitative", "title": null, "scale": {"domain": [-500, -100]}},
                 "color": {"field": "grp", "type": "nominal", "scale": {"domain": ["IgG1","CTX-8371","Pembrolizumab","Atezolizumab"], "range": ["#8c8c8c","#000000","#8c8c8c","#8c8c8c"]}, "legend": null}}},
              {"data": {"name": "tgi"}, "transform": [{"filter": "datum.grp === 'IgG1'"}],
               "mark": {"type": "point", "filled": false, "strokeWidth": 1.5, "size": 64, "opacity": 1},
               "encoding": {
                 "x": {"field": "grp", "type": "nominal", "scale": {"type": "band", "domain": ["IgG1","CTX-8371","Pembrolizumab","Atezolizumab"], "paddingInner": 0.409, "paddingOuter": 0.462, "align": 0.575},
                   "axis": {"title": null, "labelAngle": -45, "labelAlign": "right", "labelBaseline": "top", "labelFontSize": 19, "tickSize": 7, "labelPadding": 3, "labelOverlap": false}},
                 "xOffset": {"field": "col", "type": "nominal", "scale": {"type": "band", "domain": ["L","l","C","r","R"], "paddingInner": 0, "paddingOuter": 0}},
                 "y": {"field": "tgi", "type": "quantitative", "title": null, "scale": {"domain": [-500, -100]},
                   "axis": {"values": [-200, -400], "labelExpr": "'-' + (-datum.value)", "title": null, "labelFontSize": 19, "tickSize": 10, "labelPadding": 3, "labelOverlap": false}},
                 "color": {"field": "grp", "type": "nominal", "scale": {"domain": ["IgG1","CTX-8371","Pembrolizumab","Atezolizumab"], "range": ["#8c8c8c","#000000","#8c8c8c","#8c8c8c"]}, "legend": null},
                 "shape": {"field": "grp", "type": "nominal", "scale": {"domain": ["IgG1","CTX-8371","Pembrolizumab","Atezolizumab"], "range": ["circle","square","triangle-up","diamond"]}, "legend": null},
                 "fill": {"field": "grp", "type": "nominal", "scale": {"domain": ["IgG1","CTX-8371","Pembrolizumab","Atezolizumab"], "range": ["#ffffff","#000000","#ffffff","#ffffff"]}, "legend": null}}}
            ]
          }
        ]
      }
    ]
  },
  {
    "bounds": "flush",
    "spacing": 356,
    "title": {"text": "b", "anchor": "start", "frame": "group", "dx": -75, "offset": -2, "fontSize": 26, "fontWeight": "bold", "baseline": "alphabetic"},
    "vconcat": [
      {
        "bounds": "flush",
        "spacing": 147,
        "hconcat": [
          {
            "width": 149, "height": 241,
            "title": {"text": "IgG1", "fontSize": 26, "offset": -37, "baseline": "alphabetic", "frame": "group"},
            "resolve": {"scale": {"x": "independent"}, "axis": {"x": "independent"}},
            "layer": [
              {"data": {"name": "mice"}, "transform": [{"filter": "datum.grp === 'IgG1'"}],
               "mark": {"type": "line", "color": "#000000", "strokeWidth": 1.6},
               "encoding": {
                 "x": {"field": "day", "type": "quantitative", "scale": {"domain": [0, 50]}, "axis": {"orient": "bottom", "values": [0, 20, 40], "title": "Days after tumor cells inoculation", "titleFontSize": 17.5, "labelFontSize": 18, "tickSize": 7, "labelPadding": 4, "titlePadding": 5, "labelOverlap": false}},
                 "y": {"field": "vol", "type": "quantitative", "scale": {"domain": [0, 2060]}, "axis": {"values": [0, 500, 1000, 1500, 2000], "format": "d", "title": "Tumor volume (mm³)", "titleFontSize": 24, "labelFontSize": 18, "tickSize": 7, "labelPadding": 3, "titlePadding": 3, "domain": false, "labelOverlap": false}},
                 "detail": {"field": "id"}}},
              {"data": {"values": [{}]}, "mark": {"type": "rule", "color": "#000000", "strokeWidth": 2},
               "encoding": {"x": {"datum": 0, "type": "quantitative", "scale": {"domain": [0, 50]}, "axis": null}, "y": {"datum": 0, "type": "quantitative", "scale": {"domain": [0, 2060]}}, "y2": {"datum": 2000}}},
              {"data": {"values": [{}]}, "mark": {"type": "rule", "color": "#9a9a9a", "strokeWidth": 1.5, "strokeDash": [4, 4]},
               "encoding": {"x": {"datum": 0, "type": "quantitative", "scale": {"domain": [0, 50]}, "axis": {"orient": "bottom", "values": [10, 30, 50], "title": null, "domain": false, "labelFontSize": 18, "tickSize": 7, "labelPadding": 4, "labelOverlap": false}}, "x2": {"datum": 51}, "y": {"datum": 2000, "type": "quantitative", "scale": {"domain": [0, 2060]}}}},
              {"data": {"values": [{}]}, "mark": {"type": "rule", "color": "#000000", "strokeWidth": 1.5, "strokeDash": [5, 4]},
               "encoding": {"x": {"datum": 0, "type": "quantitative", "scale": {"domain": [0, 50]}, "axis": null}, "x2": {"datum": 52}, "y": {"datum": 279, "type": "quantitative", "scale": {"domain": [0, 2060]}}}},
              {"data": {"values": [{}]}, "mark": {"type": "text", "align": "left", "baseline": "middle", "fontSize": 18, "color": "#000000"},
               "encoding": {"x": {"datum": 4.5, "type": "quantitative", "scale": {"domain": [0, 50]}, "axis": null}, "y": {"datum": 1830, "type": "quantitative", "scale": {"domain": [0, 2060]}}, "text": {"value": "0/8"}}}
            ]
          },
          {
            "width": 154, "height": 241,
            "title": {"text": "CTX-8371", "fontSize": 16.5, "offset": -23.5, "baseline": "alphabetic", "frame": "group"},
            "resolve": {"scale": {"x": "independent"}, "axis": {"x": "independent"}},
            "layer": [
              {"data": {"name": "mice"}, "transform": [{"filter": "datum.grp === 'CTX-8371'"}],
               "mark": {"type": "line", "color": "#000000", "strokeWidth": 1.6},
               "encoding": {
                 "x": {"field": "day", "type": "quantitative", "scale": {"domain": [0, 50]}, "axis": {"orient": "bottom", "values": [0, 20, 40], "title": "Days after tumor cells inoculation", "titleFontSize": 18, "labelFontSize": 18.5, "tickSize": 7, "labelPadding": 4, "titlePadding": 5, "labelOverlap": false}},
                 "y": {"field": "vol", "type": "quantitative", "scale": {"domain": [0, 2000]}, "axis": {"values": [0, 500, 1000, 1500, 2000], "format": "d", "title": "Tumor volume (mm³)", "titleFontSize": 17, "labelFontSize": 18, "tickSize": 7, "labelPadding": 3, "titlePadding": 2, "labelOverlap": false}},
                 "detail": {"field": "id"}}},
              {"data": {"values": [{}]}, "mark": {"type": "rule", "color": "#9a9a9a", "strokeWidth": 1.5, "strokeDash": [4, 4]},
               "encoding": {"x": {"datum": 0, "type": "quantitative", "scale": {"domain": [0, 50]}, "axis": {"orient": "bottom", "values": [10, 30, 50], "title": null, "domain": false, "labelFontSize": 18.5, "tickSize": 7, "labelPadding": 4, "labelOverlap": false}}, "x2": {"datum": 51.7}, "y": {"datum": 2000, "type": "quantitative", "scale": {"domain": [0, 2000]}}}},
              {"data": {"values": [{}]}, "mark": {"type": "rule", "color": "#000000", "strokeWidth": 1.5, "strokeDash": [5, 4]},
               "encoding": {"x": {"datum": 0, "type": "quantitative", "scale": {"domain": [0, 50]}, "axis": null}, "x2": {"datum": 54}, "y": {"datum": 282, "type": "quantitative", "scale": {"domain": [0, 2000]}}}},
              {"data": {"values": [{}]}, "mark": {"type": "text", "align": "left", "baseline": "middle", "fontSize": 18, "color": "#000000"},
               "encoding": {"x": {"datum": 3, "type": "quantitative", "scale": {"domain": [0, 50]}, "axis": null}, "y": {"datum": 1810, "type": "quantitative", "scale": {"domain": [0, 2000]}}, "text": {"value": "5/8"}}}
            ]
          }
        ]
      },
      {
        "bounds": "flush",
        "spacing": 145,
        "hconcat": [
          {
            "width": 153, "height": 235,
            "title": {"text": "Pembrolizumab", "fontSize": 17.5, "offset": -19.5, "baseline": "alphabetic", "frame": "group"},
            "resolve": {"scale": {"x": "independent"}, "axis": {"x": "independent"}},
            "layer": [
              {"data": {"name": "mice"}, "transform": [{"filter": "datum.grp === 'Pembrolizumab'"}],
               "mark": {"type": "line", "color": "#000000", "strokeWidth": 1.6},
               "encoding": {
                 "x": {"field": "day", "type": "quantitative", "scale": {"domain": [0, 50]}, "axis": {"orient": "bottom", "values": [0, 20, 40], "title": "Days after tumor cells inoculation", "titleFontSize": 17.5, "labelFontSize": 18.5, "tickSize": 7, "labelPadding": 4, "titlePadding": 5, "labelOverlap": false}},
                 "y": {"field": "vol", "type": "quantitative", "scale": {"domain": [0, 2000]}, "axis": {"values": [0, 500, 1000, 1500, 2000], "format": "d", "title": "Tumor volume (mm³)", "titleFontSize": 17, "labelFontSize": 18, "tickSize": 7, "labelPadding": 3, "titlePadding": 2, "labelOverlap": false}},
                 "detail": {"field": "id"}}},
              {"data": {"values": [{}]}, "mark": {"type": "rule", "color": "#9a9a9a", "strokeWidth": 1.5, "strokeDash": [4, 4]},
               "encoding": {"x": {"datum": 0, "type": "quantitative", "scale": {"domain": [0, 50]}, "axis": {"orient": "bottom", "values": [10, 30, 50], "title": null, "domain": false, "labelFontSize": 18.5, "tickSize": 7, "labelPadding": 4, "labelOverlap": false}}, "x2": {"datum": 51}, "y": {"datum": 2000, "type": "quantitative", "scale": {"domain": [0, 2000]}}}},
              {"data": {"values": [{}]}, "mark": {"type": "rule", "color": "#000000", "strokeWidth": 1.5, "strokeDash": [5, 4]},
               "encoding": {"x": {"datum": 0, "type": "quantitative", "scale": {"domain": [0, 50]}, "axis": null}, "x2": {"datum": 52}, "y": {"datum": 265, "type": "quantitative", "scale": {"domain": [0, 2000]}}}},
              {"data": {"values": [{}]}, "mark": {"type": "text", "align": "left", "baseline": "middle", "fontSize": 18, "color": "#000000"},
               "encoding": {"x": {"datum": 2.6, "type": "quantitative", "scale": {"domain": [0, 50]}, "axis": null}, "y": {"datum": 1830, "type": "quantitative", "scale": {"domain": [0, 2000]}}, "text": {"value": "2/8"}}}
            ]
          },
          {
            "width": 155, "height": 237,
            "title": {"text": "Atezolizumab", "fontSize": 17.5, "offset": -19.5, "baseline": "alphabetic", "frame": "group"},
            "resolve": {"scale": {"x": "independent"}, "axis": {"x": "independent"}},
            "layer": [
              {"data": {"name": "mice"}, "transform": [{"filter": "datum.grp === 'Atezolizumab'"}],
               "mark": {"type": "line", "color": "#000000", "strokeWidth": 1.6},
               "encoding": {
                 "x": {"field": "day", "type": "quantitative", "scale": {"domain": [0, 50]}, "axis": {"orient": "bottom", "values": [0, 20, 40], "title": "Days after tumor cells inoculation", "titleFontSize": 17.5, "labelFontSize": 18.5, "tickSize": 7, "labelPadding": 4, "titlePadding": 3, "labelOverlap": false}},
                 "y": {"field": "vol", "type": "quantitative", "scale": {"domain": [0, 2000]}, "axis": {"values": [0, 500, 1000, 1500, 2000], "format": "d", "title": "Tumor volume (mm³)", "titleFontSize": 17, "labelFontSize": 18, "tickSize": 7, "labelPadding": 3, "titlePadding": 2, "labelOverlap": false}},
                 "detail": {"field": "id"}}},
              {"data": {"values": [{}]}, "mark": {"type": "rule", "color": "#9a9a9a", "strokeWidth": 1.5, "strokeDash": [4, 4]},
               "encoding": {"x": {"datum": 0, "type": "quantitative", "scale": {"domain": [0, 50]}, "axis": {"orient": "bottom", "values": [10, 30, 50], "title": null, "domain": false, "labelFontSize": 18.5, "tickSize": 7, "labelPadding": 4, "labelOverlap": false}}, "x2": {"datum": 50.5}, "y": {"datum": 2000, "type": "quantitative", "scale": {"domain": [0, 2000]}}}},
              {"data": {"values": [{}]}, "mark": {"type": "rule", "color": "#000000", "strokeWidth": 1.5, "strokeDash": [5, 4]},
               "encoding": {"x": {"datum": 0, "type": "quantitative", "scale": {"domain": [0, 50]}, "axis": null}, "x2": {"datum": 51}, "y": {"datum": 264, "type": "quantitative", "scale": {"domain": [0, 2000]}}}},
              {"data": {"values": [{}]}, "mark": {"type": "text", "align": "left", "baseline": "middle", "fontSize": 18, "color": "#000000"},
               "encoding": {"x": {"datum": 2, "type": "quantitative", "scale": {"domain": [0, 50]}, "axis": null}, "y": {"datum": 1865, "type": "quantitative", "scale": {"domain": [0, 2000]}}, "text": {"value": "2/8"}}}
            ]
          }
        ]
      }
    ]
  }
]
}
